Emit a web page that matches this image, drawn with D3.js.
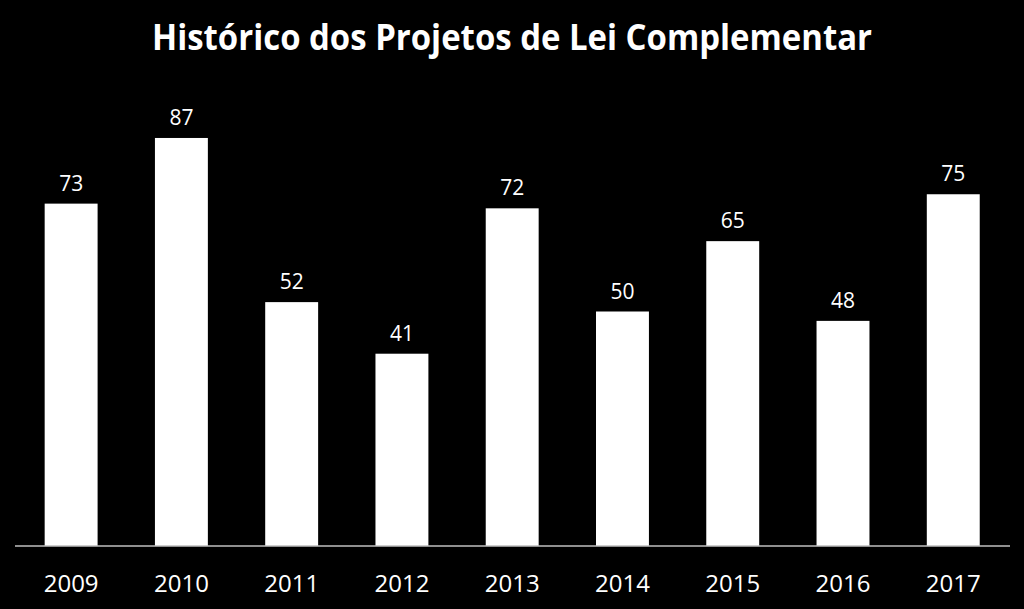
<!DOCTYPE html>
<html><head><meta charset="utf-8">
<script src="https://cdn.jsdelivr.net/npm/d3@7"></script>
<style>html,body{margin:0;padding:0;background:#000;}svg{display:block;}</style>
</head><body>
<svg id="c" width="1024" height="609"></svg>
<script>
const years = ["2009","2010","2011","2012","2013","2014","2015","2016","2017"];
const values = [73, 87, 52, 41, 72, 50, 65, 48, 75];
const title = "Histórico dos Projetos de Lei Complementar";

const svg = d3.select("#c");
const W = 1024, H = 609;
svg.append("rect").attr("width", W).attr("height", H).attr("fill", "#000");

const x = d3.scaleBand().domain(years).range([16, 1008.4]).paddingInner(0.52).paddingOuter(0.26);
const y = d3.scaleLinear().domain([0, 100]).range([546, 77]);

svg.append("text").attr("x", 512).attr("y", 50).attr("text-anchor", "middle")
  .attr("fill", "#fff").attr("font-family", "'Open Sans', sans-serif").attr("font-weight", "bold")
  .attr("font-size", 36).attr("textLength", 720).attr("lengthAdjust", "spacingAndGlyphs").text(title);

const data = years.map((yr, i) => ({yr, v: values[i]}));

svg.selectAll("rect.bar").data(data).join("rect").attr("class", "bar")
  .attr("x", d => x(d.yr)).attr("width", x.bandwidth())
  .attr("y", d => y(d.v)).attr("height", d => y(0) - y(d.v)).attr("fill", "#fff");

svg.selectAll("text.val").data(data).join("text").attr("class", "val")
  .attr("x", d => x(d.yr) + x.bandwidth() / 2).attr("y", d => y(d.v) - 13)
  .attr("text-anchor", "middle").attr("fill", "#fff")
  .attr("font-family", "'Open Sans', sans-serif").attr("font-size", 21).text(d => d.v);

const axis = d3.axisBottom(x).tickSize(0).tickPadding(0);
const g = svg.append("g").attr("transform", `translate(0,${y(0)})`).call(axis);
g.select(".domain").attr("stroke", "#bfbfbf").attr("stroke-width", 1.5).attr("d", "M15,0H1010");
g.selectAll(".tick text").attr("y", 46).attr("dy", null).attr("fill", "#fff")
  .attr("font-family", "'Open Sans', sans-serif").attr("font-size", 24);
</script>
</body></html>
